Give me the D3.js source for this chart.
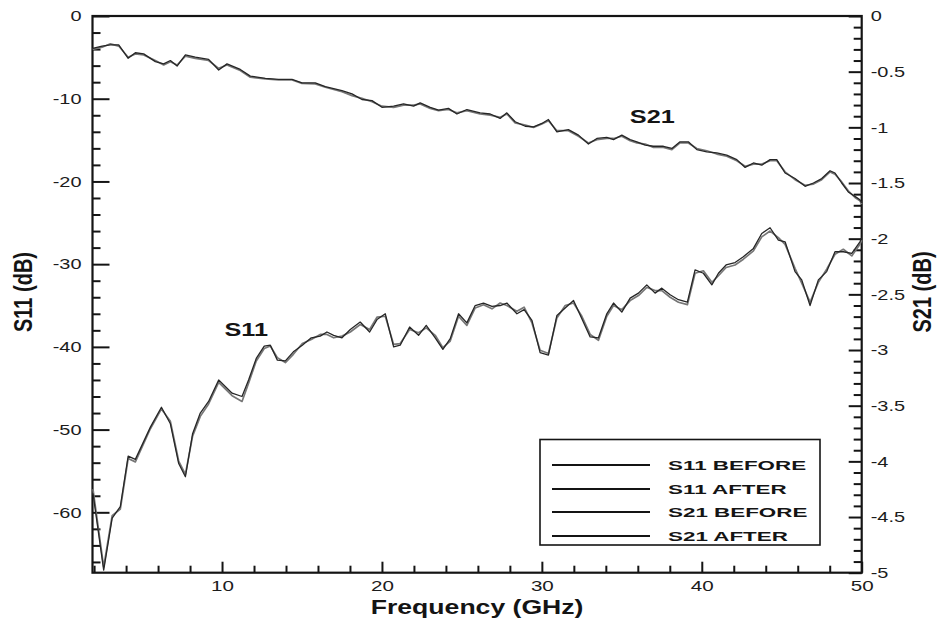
<!DOCTYPE html>
<html>
<head>
<meta charset="utf-8">
<script src="https://cdn.jsdelivr.net/npm/d3@7"></script>
<style>
  body { margin: 0; background: #fff; }
  svg { display: block; font-family: "Liberation Sans", Arial, sans-serif; }
</style>
</head>
<body>
<svg id="chart" width="940" height="619"></svg>
<script>
// ---- measured data -------------------------------------------------------
const s11Freq = [1.93, 2.6, 3.13, 3.64, 4.13, 4.58, 5.52, 6.21, 6.77, 7.29, 7.71, 8.16, 8.64, 9.16, 9.79,
  10.63, 11.25, 11.66, 12.14, 12.64, 13.02, 13.46, 13.96, 14.46, 15.02, 15.58, 16.14, 16.56, 16.98, 17.5,
  18.02, 18.64, 19.23, 19.69, 20.21, 20.73, 21.14, 21.73, 22.29, 22.77, 23.33, 23.81, 24.27, 24.79, 25.31,
  25.83, 26.35, 26.88, 27.39, 27.81, 28.44, 28.89, 29.38, 29.89, 30.41, 30.94, 31.46, 31.98, 32.5, 33.02,
  33.54, 34.06, 34.48, 35.0, 35.52, 36.04, 36.56, 37.08, 37.5, 38.02, 38.54, 39.1, 39.58, 40.1, 40.63,
  41.04, 41.52, 42.08, 42.6, 43.23, 43.75, 44.27, 44.79, 45.21, 45.83, 46.25, 46.77, 47.29, 47.81, 48.33,
  48.85, 49.38, 49.89, 50];

const s11Before = [-57.7, -67.0, -60.7, -59.3, -53.2, -53.6, -49.7, -47.3, -49.3, -54.1, -55.7, -50.5, -48.0, -46.6, -44.0,
  -45.6, -46.0, -44.0, -41.4, -39.9, -39.8, -41.6, -41.7, -40.6, -39.8, -38.9, -38.7, -38.2, -38.6, -38.9,
  -37.9, -37.0, -38.2, -36.7, -36.0, -40.0, -39.8, -37.6, -38.6, -37.4, -38.9, -40.3, -39.0, -36.0, -37.1,
  -35.0, -34.7, -35.1, -35.0, -34.7, -36.0, -35.5, -36.8, -40.7, -41.0, -36.2, -35.3, -34.4, -36.6, -38.8,
  -38.9, -36.0, -34.7, -35.8, -34.1, -33.5, -32.5, -33.5, -32.9, -33.7, -34.3, -34.6, -30.7, -31.1, -32.5,
  -31.1, -30.1, -29.8, -29.1, -28.1, -26.3, -25.6, -27.1, -27.3, -30.9, -31.9, -35.0, -31.9, -30.9, -28.5,
  -28.5, -28.7, -27.3, -26.8];

const s11After = [-57.2, -66.6, -60.4, -59.6, -53.5, -53.9, -49.9, -47.5, -49.0, -53.8, -55.4, -50.8, -48.4, -46.9, -44.3,
  -45.9, -46.6, -44.4, -41.7, -40.2, -39.9, -41.3, -41.9, -40.9, -39.6, -39.1, -38.5, -38.5, -38.9, -38.7,
  -38.2, -37.3, -37.9, -36.4, -36.3, -39.7, -39.6, -37.9, -38.3, -37.7, -38.6, -40.1, -39.3, -36.3, -37.4,
  -35.3, -34.9, -35.4, -34.7, -35.0, -35.7, -35.2, -37.1, -40.4, -40.8, -36.5, -35.0, -34.7, -36.3, -38.5,
  -39.2, -36.3, -35.0, -35.5, -34.4, -33.8, -32.8, -33.2, -33.2, -34.0, -34.6, -34.9, -31.1, -30.8, -32.2,
  -31.4, -30.4, -30.1, -29.4, -28.4, -26.7, -26.0, -26.8, -27.6, -30.5, -32.3, -34.6, -32.2, -30.6, -28.8,
  -28.2, -29.0, -27.6, -27.1];

const s21Freq = [1.91, 2.5, 3.02, 3.54, 4.13, 4.58, 5.1, 5.83, 6.35, 6.77, 7.19, 7.71, 8.33, 9.16, 9.79,
  10.31, 11.14, 11.77, 12.71, 13.54, 14.38, 15.0, 15.83, 16.46, 17.5, 18.13, 18.75, 19.38, 20.0, 20.73,
  21.35, 21.98, 22.39, 23.02, 23.54, 24.16, 24.69, 25.31, 26.14, 26.77, 27.39, 27.81, 28.33, 28.96, 29.48,
  30.0, 30.41, 30.94, 31.66, 32.29, 32.91, 33.44, 34.06, 34.48, 35.0, 35.52, 35.94, 36.46, 36.98, 37.6,
  38.13, 38.64, 39.16, 39.69, 40.31, 40.94, 41.56, 42.19, 42.71, 43.23, 43.75, 44.27, 44.69, 45.21, 45.83,
  46.46, 46.98, 47.5, 48.02, 48.33, 48.75, 49.16, 49.58, 49.89, 50];

const s21Before = [-0.29, -0.27, -0.26, -0.26, -0.38, -0.33, -0.34, -0.41, -0.43, -0.40, -0.45, -0.35, -0.37, -0.39, -0.485,
  -0.43, -0.48, -0.54, -0.56, -0.57, -0.57, -0.60, -0.60, -0.635, -0.67, -0.70, -0.75, -0.76, -0.82, -0.81,
  -0.79, -0.81, -0.78, -0.82, -0.845, -0.83, -0.88, -0.84, -0.87, -0.88, -0.92, -0.87, -0.95, -0.99, -0.995,
  -0.965, -0.93, -1.04, -1.02, -1.07, -1.15, -1.10, -1.09, -1.11, -1.07, -1.11, -1.13, -1.16, -1.17, -1.17,
  -1.19, -1.13, -1.13, -1.20, -1.22, -1.23, -1.25, -1.29, -1.36, -1.32, -1.34, -1.29, -1.29, -1.41, -1.46,
  -1.53, -1.50, -1.46, -1.39, -1.41, -1.50, -1.58, -1.62, -1.65, -1.68];

const s21After = [-0.30, -0.28, -0.25, -0.27, -0.37, -0.34, -0.35, -0.40, -0.44, -0.41, -0.44, -0.36, -0.38, -0.40, -0.47,
  -0.44, -0.49, -0.55, -0.565, -0.575, -0.575, -0.605, -0.61, -0.64, -0.68, -0.715, -0.74, -0.77, -0.81, -0.82,
  -0.80, -0.80, -0.79, -0.83, -0.85, -0.84, -0.87, -0.85, -0.88, -0.89, -0.91, -0.88, -0.96, -0.98, -1.00,
  -0.97, -0.94, -1.03, -1.03, -1.08, -1.14, -1.11, -1.10, -1.10, -1.08, -1.12, -1.14, -1.15, -1.18, -1.18,
  -1.20, -1.14, -1.14, -1.19, -1.21, -1.24, -1.26, -1.30, -1.35, -1.33, -1.33, -1.30, -1.30, -1.40, -1.47,
  -1.52, -1.51, -1.47, -1.40, -1.42, -1.49, -1.57, -1.63, -1.66, -1.69];

// axis ticks and labels
const freqTicks = [10, 20, 30, 40, 50];
const freqMinor = [2, 4, 6, 8, 12, 14, 16, 18, 22, 24, 26, 28, 32, 34, 36, 38, 42, 44, 46, 48];
const s11Ticks = [0, -10, -20, -30, -40, -50, -60];
const s11Minor = [-2, -4, -6, -8, -12, -14, -16, -18, -22, -24, -26, -28, -32, -34, -36, -38,
  -42, -44, -46, -48, -52, -54, -56, -58, -62, -64, -66];
const s21Ticks = [0, -0.5, -1, -1.5, -2, -2.5, -3, -3.5, -4, -4.5, -5];
const s21Minor = [-0.1, -0.2, -0.3, -0.4, -0.6, -0.7, -0.8, -0.9, -1.1, -1.2, -1.3, -1.4,
  -1.6, -1.7, -1.8, -1.9, -2.1, -2.2, -2.3, -2.4, -2.6, -2.7, -2.8, -2.9, -3.1, -3.2, -3.3, -3.4,
  -3.6, -3.7, -3.8, -3.9, -4.1, -4.2, -4.3, -4.4, -4.6, -4.7, -4.8, -4.9];
const legendLabels = ["S11 BEFORE", "S11 AFTER", "S21 BEFORE", "S21 AFTER"];
const xTitle = "Frequency (GHz)";
const yLeftTitle = "S11 (dB)";
const yRightTitle = "S21 (dB)";

// ---- layout ---------------------------------------------------------------
const box = { left: 92.5, top: 16, right: 861.7, bottom: 572.7 };
const SX = 1.33;          // horizontal stretch of the lettering
const ink = "#141414";

const svg = d3.select("#chart");

const x = d3.scaleLinear().domain([1.9, 50]).range([box.left, box.right]);
const yL = d3.scaleLinear().domain([-67.3, 0]).range([box.bottom, box.top]);
const yR = d3.scaleLinear().domain([-5, 0]).range([box.bottom, box.top]);

function stretchText(sel, k) {
  sel.each(function () {
    const t = d3.select(this);
    const tx = +t.attr("x") || 0;
    const ty = +t.attr("y") || 0;
    t.attr("x", 0).attr("y", 0)
     .attr("transform", `translate(${tx},${ty}) scale(${k},1)`);
  });
}

function styleAxis(g, fontSize) {
  g.select(".domain").remove();
  g.selectAll(".tick line").attr("stroke", ink).attr("stroke-width", 2);
  g.selectAll(".tick text")
    .attr("fill", "#1c1c1c")
    .style("font-size", fontSize + "px")
    .style("font-family", '"Liberation Sans", Arial, sans-serif');
}

// minor ticks
svg.append("g").attr("transform", `translate(${box.left},0)`)
  .call(d3.axisLeft(yL).tickValues(s11Minor).tickSize(-8).tickFormat(""))
  .call(g => styleAxis(g, 0));
svg.append("g").attr("transform", `translate(${box.right},0)`)
  .call(d3.axisRight(yR).tickValues(s21Minor).tickSize(-8).tickFormat(""))
  .call(g => styleAxis(g, 0));
svg.append("g").attr("transform", `translate(0,${box.bottom})`)
  .call(d3.axisBottom(x).tickValues(freqMinor).tickSize(-7).tickFormat(""))
  .call(g => styleAxis(g, 0));

// major ticks with labels
const gLeft = svg.append("g").attr("transform", `translate(${box.left},0)`)
  .call(d3.axisLeft(yL).tickValues(s11Ticks).tickSize(-17).tickPadding(11).tickFormat(d => String(d)))
  .call(g => styleAxis(g, 15));
stretchText(gLeft.selectAll(".tick text"), SX);

const gRight = svg.append("g").attr("transform", `translate(${box.right},0)`)
  .call(d3.axisRight(yR).tickValues(s21Ticks).tickSize(-13).tickPadding(9).tickFormat(d => String(d)))
  .call(g => styleAxis(g, 15));
stretchText(gRight.selectAll(".tick text"), SX);

const gBottom = svg.append("g").attr("transform", `translate(0,${box.bottom})`)
  .call(d3.axisBottom(x).tickValues(freqTicks).tickSize(-11).tickPadding(7).tickFormat(d => String(d)))
  .call(g => styleAxis(g, 15.5));
stretchText(gBottom.selectAll(".tick text"), SX);

// plot frame
svg.append("rect")
  .attr("x", box.left).attr("y", box.top)
  .attr("width", box.right - box.left).attr("height", box.bottom - box.top)
  .attr("fill", "none").attr("stroke", ink).attr("stroke-width", 2.2);

// ---- curves ---------------------------------------------------------------
const lineL = d3.line().x(d => x(d[0])).y(d => yL(d[1]));
const lineR = d3.line().x(d => x(d[0])).y(d => yR(d[1]));

const curves = [
  { pts: d3.zip(s11Freq, s11After), line: lineL, color: "#777", w: 1.7 },
  { pts: d3.zip(s21Freq, s21After), line: lineR, color: "#777", w: 1.7 },
  { pts: d3.zip(s11Freq, s11Before), line: lineL, color: "#262626", w: 1.3 },
  { pts: d3.zip(s21Freq, s21Before), line: lineR, color: "#262626", w: 1.3 }
];
svg.append("g").selectAll("path").data(curves).join("path")
  .attr("d", c => c.line(c.pts))
  .attr("fill", "none")
  .attr("stroke", c => c.color)
  .attr("stroke-width", c => c.w)
  .attr("stroke-linejoin", "round");

// ---- text labels ----------------------------------------------------------
function label(txt, px, py, size, weight, anchor, rot) {
  svg.append("text")
    .attr("transform", `translate(${px},${py}) scale(${SX},1)` + (rot ? ` rotate(${rot})` : ""))
    .attr("text-anchor", anchor)
    .attr("fill", ink)
    .style("font-size", size + "px")
    .style("font-weight", weight)
    .text(txt);
}

label("S21", x(35.5), yR(-0.965), 19, "bold", "start");
label("S11", x(10.15), yL(-38.7), 19, "bold", "start");

label(xTitle, (box.left + box.right) / 2, 614, 20, "bold", "middle");
label(yLeftTitle, 32, 292, 20, "bold", "middle", -90);
label(yRightTitle, 931, 292, 20, "bold", "middle", -90);

// ---- legend ---------------------------------------------------------------
const legend = { x: 540, y: 439.5, w: 280, h: 105.5, row0: 465, step: 23.5 };
const lg = svg.append("g");
lg.append("rect")
  .attr("x", legend.x).attr("y", legend.y)
  .attr("width", legend.w).attr("height", legend.h)
  .attr("fill", "#fff").attr("stroke", ink).attr("stroke-width", 1.6);
const rows = lg.selectAll("g.row").data(legendLabels).join("g")
  .attr("class", "row")
  .attr("transform", (d, i) => `translate(${legend.x},${Math.round(legend.row0 + i * legend.step)})`);
rows.append("line")
  .attr("x1", 12).attr("x2", 110)
  .attr("stroke", ink).attr("stroke-width", 2);
rows.append("text")
  .attr("transform", "translate(128,5) scale(1.66,1)")
  .attr("fill", ink)
  .style("font-size", "13.5px")
  .style("font-weight", "bold")
  .text(d => d);
</script>
</body>
</html>
